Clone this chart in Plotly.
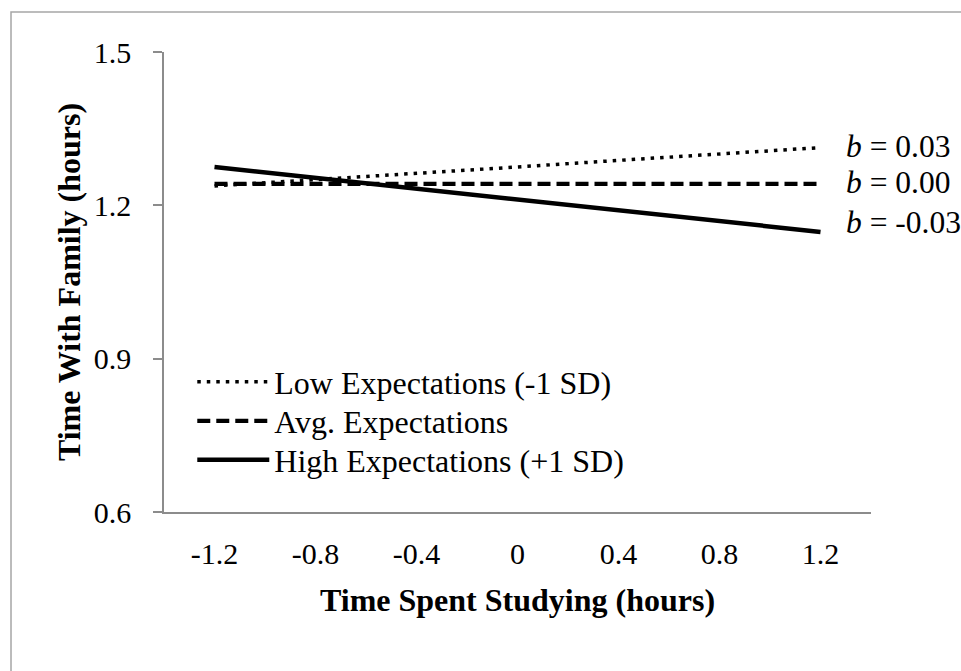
import plotly.graph_objects as go

x_hours = [-1.2, -0.8, -0.4, 0.0, 0.4, 0.8, 1.2]
x_ticklabels = ["-1.2", "-0.8", "-0.4", "0", "0.4", "0.8", "1.2"]
low_exp = [1.238, 1.250, 1.263, 1.275, 1.288, 1.300, 1.313]
avg_exp = [1.242, 1.242, 1.242, 1.242, 1.242, 1.242, 1.242]
high_exp = [1.275, 1.254, 1.233, 1.212, 1.190, 1.169, 1.148]
series_names = ["Low Expectations (-1 SD)", "Avg. Expectations", "High Expectations (+1 SD)"]
slope_labels = ["0.03", "0.00", "-0.03"]
slope_label_y = [1.316, 1.244, 1.167]
y_ticks = [0.6, 0.9, 1.2, 1.5]

FONT = "Times New Roman, Liberation Serif, serif"
AXIS_GRAY = "#8c8c8c"

fig = go.Figure()
fig.add_trace(go.Scatter(x=x_hours, y=low_exp, name=series_names[0], mode="lines",
                         legend="legend",
                         line=dict(color="black", width=3.5, dash="3.5px,6px")))
fig.add_trace(go.Scatter(x=x_hours, y=avg_exp, name=series_names[1], mode="lines",
                         legend="legend2",
                         line=dict(color="black", width=4.2, dash="13px,6px")))
fig.add_trace(go.Scatter(x=x_hours, y=high_exp, name=series_names[2], mode="lines",
                         legend="legend3",
                         line=dict(color="black", width=4.5)))

for lab, yy in zip(slope_labels, slope_label_y):
    fig.add_annotation(x=1.295, y=yy, xref="x", yref="y", xanchor="left", yanchor="middle",
                       text="<i>b</i> = " + lab, showarrow=False,
                       font=dict(family=FONT, size=31.5, color="black"))

# outer chart frame
fig.add_shape(type="rect", xref="paper", yref="paper",
              x0=-0.2164, x1=1.5, y0=-1.0, y1=1.087,
              line=dict(color="#a6a6a6", width=1.5), layer="below")

legend_common = dict(x=0.040, xanchor="left", yanchor="middle",
                     bgcolor="rgba(0,0,0,0)", itemwidth=72,
                     font=dict(family=FONT, size=32, color="black"))

fig.update_layout(
    width=961, height=671,
    margin=dict(l=164, r=90, t=52, b=159),
    paper_bgcolor="white", plot_bgcolor="white",
    font=dict(family=FONT, size=30, color="black"),
    showlegend=True,
    legend=dict(y=0.2826, **legend_common),
    legend2=dict(y=0.1978, **legend_common),
    legend3=dict(y=0.1130, **legend_common),
    xaxis=dict(range=[-1.4, 1.4], tickmode="array", tickvals=x_hours, ticktext=x_ticklabels,
               showgrid=False, zeroline=False, showline=True, linecolor=AXIS_GRAY, linewidth=1.5,
               ticks="", ticklabelstandoff=14,
               title=dict(text="<b>Time Spent Studying (hours)</b>", standoff=20,
                          font=dict(family=FONT, size=32, color="black"))),
    yaxis=dict(range=[0.6, 1.5], tickmode="array", tickvals=y_ticks,
               tickformat=".1f", showgrid=False, zeroline=False,
               showline=True, linecolor=AXIS_GRAY, linewidth=1.5,
               ticks="outside", ticklen=9, tickcolor=AXIS_GRAY, tickwidth=1.5,
               ticklabelstandoff=16,
               title=dict(text="<b>Time With Family (hours)</b>", standoff=4,
                          font=dict(family=FONT, size=32, color="black"))),
)

fig.write_html("out.html")
